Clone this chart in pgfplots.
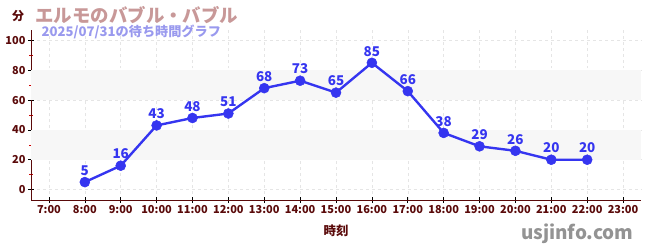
\documentclass[border=0pt]{standalone}
\usepackage{pgfplots}
\pgfplotsset{compat=1.18}
\usepackage{fontspec}
\setmainfont{Noto Sans CJK JP}
\definecolor{axred}{HTML}{5A0A0A}
\definecolor{ttl}{HTML}{C89898}
\definecolor{sub}{HTML}{9999EE}
\definecolor{ln}{HTML}{3535F0}
\begin{document}
\begin{tikzpicture}[x=1bp,y=1bp]
\useasboundingbox (0,0) rectangle (650,250);
\begin{axis}[
  at={(31bp,50bp)}, anchor=south west,
  scale only axis, width=610bp, height=170bp,
  xmin=6.5, xmax=23.5, ymin=-7, ymax=107,
  xtick={7,...,23},
  xticklabels={7:00,8:00,9:00,10:00,11:00,12:00,13:00,14:00,15:00,16:00,17:00,18:00,19:00,20:00,21:00,22:00,23:00},
  ytick={0,20,...,100},
  minor ytick={10,30,...,90},
  axis x line*=bottom, axis y line*=left,
  axis line style={axred, line width=0.8pt, -},
  x axis line style={-}, y axis line style={-},
  tick style={black, line width=0.6pt},
  major tick length=6bp,
  xtick pos=bottom, ytick pos=left,
  tick align=center,
  minor tick style={red!80!black},
  minor tick length=4bp,
  grid=major,
  major grid style={dashed, gray!20, line width=0.5pt},
  xticklabel style={font=\bfseries\fontsize{11}{12}\selectfont, text=axred, yshift=1bp},
  yticklabel style={font=\bfseries\fontsize{11}{12}\selectfont, text=axred, xshift=1bp},
  /pgf/number format/assume math mode=true,
  xlabel={時刻}, xlabel style={font=\bfseries\fontsize{12.5}{14}\selectfont, text=axred, yshift=-4bp},
  clip=false,
  nodes near coords,
  every node near coord/.style={font=\bfseries\fontsize{13.5}{14}\selectfont, text=ln, anchor=south, yshift=3bp},
]
\fill[gray!6] (axis cs:6.5,20) rectangle (axis cs:23.5,40);
\fill[gray!6] (axis cs:6.5,60) rectangle (axis cs:23.5,80);
\addplot[ln, line width=2.4pt, mark=*, mark size=5bp, mark options={fill=ln, draw=ln, line width=0.5pt}] coordinates {
(8,5) (9,16) (10,43) (11,48) (12,51) (13,68) (14,73) (15,65) (16,85) (17,66) (18,38) (19,29) (20,26) (21,20) (22,20)
};
\end{axis}
\node[anchor=center, text=axred, font=\bfseries\fontsize{12}{14}\selectfont] at (18,234) {分};
\node[anchor=west, text=ttl, font=\bfseries\fontsize{18.5}{20}\selectfont] at (32,235) {エルモのバブル・バブル};
\node[anchor=west, text=sub, font=\bfseries\fontsize{13.2}{15}\selectfont] at (38,218) {2025/07/31の待ち時間グラフ};
\node[anchor=east, text=gray!85, font=\bfseries\fontsize{19}{20}\selectfont] at (637,16) {usjinfo.com};
\end{tikzpicture}
\end{document}
